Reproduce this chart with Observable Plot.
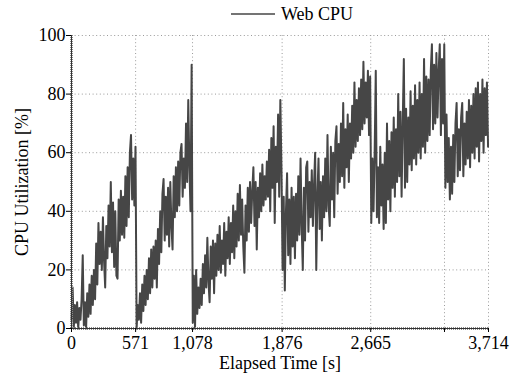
<!DOCTYPE html>
<html>
<head>
<meta charset="utf-8">
<script src="https://cdn.jsdelivr.net/npm/d3@7"></script>
<script src="https://cdn.jsdelivr.net/npm/@observablehq/plot@0.6"></script>
<style>
  html, body { margin: 0; padding: 0; background: #fff; }
  body { width: 514px; height: 373px; overflow: hidden; font-family: "Liberation Serif", "DejaVu Serif", serif; }
  #legend { display: block; }
  #chart svg { display: block; }
  #chart svg text, #legend text { font-family: "Liberation Serif", "DejaVu Serif", serif !important; }
</style>
</head>
<body>
<svg id="legend" width="514" height="28"></svg>
<div id="chart"></div>
<script>
// ---- data ----
const seriesName = "Web CPU";
const sampleStep = 10; // seconds between samples
const xTicks = [0, 571, 1078, 1876, 2665, 3322, 3714];
const xTickLabels = ["0", "571", "1,078", "1,876", "2,665", "", "3,714"];
const yTicks = [0, 20, 40, 60, 80, 100];

// run segments: start time (s) and CPU utilization samples (%)
const run1Start = 0;
const run1 = [3,14,0,8,2,9,0,7,3,10, 25,1,9,0,12,4,15,5,18,8,
  20,10,29,15,36,22,33,20,38,23, 14,35,24,42,28,50,26,43,21,40,
  18,17,44,30,47,32,45,31,52,35, 55,38,60,66,44,58,42,62];
const run2Start = 580;
const run2 = [0,8,3,12,2,15,6,18,8,20, 10,24,12,27,14,28,17,30,14,34,
  22,40,26,46,51,30,45,32,48,28, 50,35,27,52,38,55,40,57,42,60,
  63,45,58,48,70,50,78,55,40,90];
const run3Start = 1080;
const run3 = [2,18,0,20,5,14,7,17,8,22, 12,25,14,31,16,9,28,17,30,12,
  29,18,32,20,35,19,30,22,36,18, 33,24,38,22,36,26,42,24,40,28,
  46,30,49,32,44,28,19,42,30,48, 33,50,36,47,55,35,50,27,48,38,
  53,40,56,42,52,44,57,45,61,40, 65,48,69,36,62,50,73,45,78,55];
const run4Start = 1880;
const run4 = [20,45,13,40,53,25,44,22,48,28, 45,24,46,30,52,32,58,35,20,48,
  30,55,57,33,50,38,54,35,49,60, 20,45,58,34,50,30,52,38,58,40,
  66,42,35,62,44,60,38,64,69,46, 63,50,70,52,77,48,68,55,73,50,
  70,58,76,60,84,62,78,64,82,66, 85,68,91,70,84,72,88,66,86];
const run5Start = 2670;
const run5 = [36,58,40,60,88,38,55,36,62,42, 56,34,60,36,70,44,64,40,67,48,
  72,45,68,50,80,52,74,45,70,92, 48,75,50,72,56,81,54,76,58,83,
  56,78,60,84,58,80,62,92,60,86, 64,85,66,88,97,68,90,70,94,72,
  88,97,66,92,70,97];
const run6Start = 3330;
const run6 = [48,73,50,65,44,62,46,66,50,70, 77,52,68,54,72,77,52,70,56,74,
  58,78,55,76,60,80,58,82,62,84, 57,80,64,85,60,82,66,84,62];

// ---- build table ----
const runs = [[run1Start, run1], [run2Start, run2], [run3Start, run3],
              [run4Start, run4], [run5Start, run5], [run6Start, run6]];
const data = [];
for (const [start, vals] of runs) {
  vals.forEach((v, i) => data.push({t: start + i * sampleStep, cpu: v}));
}

const fontStack = '"Liberation Serif", "DejaVu Serif", serif';
const lineColor = "#464646";
const gridStyle = {stroke: "#9a9a9a", strokeWidth: 1, strokeDasharray: "1,2.6"};

// ---- legend ----
const leg = d3.select("#legend");
leg.append("line").attr("x1", 231).attr("x2", 275).attr("y1", 14).attr("y2", 14)
  .attr("stroke", lineColor).attr("stroke-width", 1.6);
leg.append("text").attr("x", 281).attr("y", 19.5)
  .style("font-family", fontStack).attr("font-size", 18).attr("fill", "#000")
  .text(seriesName);

// ---- chart ----
const chart = Plot.plot({
  width: 514,
  height: 345,
  marginTop: 7,
  marginBottom: 45,
  marginLeft: 71,
  marginRight: 26,
  style: {fontFamily: fontStack, fontSize: "18px", color: "#000", background: "#fff", overflow: "visible"},
  x: {domain: [0, 3714]},
  y: {domain: [0, 100]},
  marks: [
    Plot.ruleY(yTicks.filter(d => d > 0), gridStyle),
    Plot.ruleX(xTicks.filter(d => d > 0), gridStyle),
    Plot.line(data, {x: "t", y: "cpu", stroke: lineColor, strokeWidth: 2}),
    Plot.ruleY([0], {stroke: "#8a8a8a", strokeWidth: 3, strokeDasharray: "1,1"}),
    Plot.ruleX([0], {stroke: "#8a8a8a", strokeWidth: 3, strokeDasharray: "1,1"}),
    Plot.ruleY([0], {stroke: "#333", strokeWidth: 1}),
    Plot.ruleX([0], {stroke: "#333", strokeWidth: 1}),
    Plot.axisX({
      ticks: xTicks,
      tickFormat: d => xTickLabels[xTicks.indexOf(d)],
      tickSize: 4,
      tickPadding: 4,
      fontSize: 18,
      label: "Elapsed Time [s]",
      labelAnchor: "center",
      labelOffset: 40,
      labelArrow: false
    }),
    Plot.axisY({
      ticks: yTicks,
      tickSize: 5,
      tickPadding: 1,
      fontSize: 18,
      label: "CPU Utilization [%]",
      labelAnchor: "center",
      labelOffset: 56,
      labelArrow: false
    })
  ]
});
document.getElementById("chart").appendChild(chart);
</script>
</body>
</html>
